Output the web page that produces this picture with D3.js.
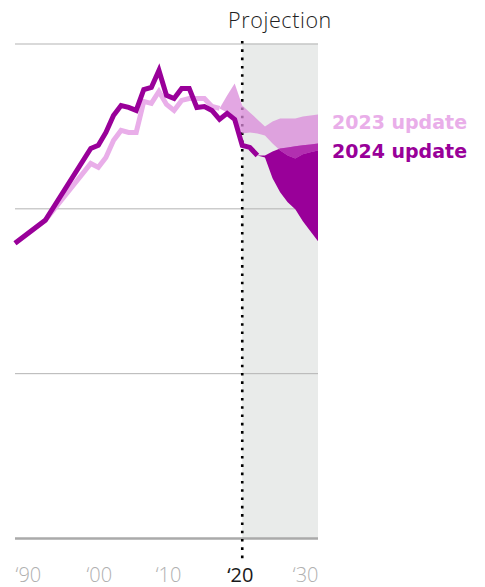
<!DOCTYPE html>
<html><head><meta charset="utf-8">
<script src="https://cdn.jsdelivr.net/npm/d3@7"></script>
<style>body{margin:0;background:#fff}</style>
</head><body>
<svg id="chart" width="485" height="587"></svg>
<script>
// ---- data ----
const years2024 = [1990,1994,2000,2001,2002,2003,2004,2005,2006,2007,2008,2009,2010,2011,2012,2013,2014,2015,2016,2017,2018,2019,2020,2021,2022];
const values2024 = [357.6,385.5,472.7,476.4,492.1,512.7,524.8,522.4,518.8,544.2,546.7,567.3,537.0,533.3,545.5,545.5,522.4,523.6,518.8,507.9,515.2,507.9,476.4,473.9,464.2];
const years2023 = [1990,1994,2000,2001,2002,2003,2004,2005,2006,2007,2008,2009,2010,2011,2012,2013,2014,2015,2016,2017];
const values2023 = [357.6,385.5,454.5,449.7,461.8,482.4,494.5,492.1,492.1,529.7,527.3,541.8,526.1,518.8,530.9,533.3,533.3,533.3,523.6,521.2];
const bandYears2023 = [2017,2018,2019,2020,2021,2022,2023,2024,2025,2026,2027,2028,2029,2030];
const band2023High = [521.2,537.0,551.5,524.8,516.4,507.9,499.4,505.5,509.1,509.1,509.1,511.5,512.7,513.9];
const band2023Low  = [521.2,516.4,506.7,490.9,492.1,490.9,488.5,478.8,470.3,464.2,460.6,465.5,467.9,470.3];
const bandYears2024 = [2022,2023,2024,2025,2026,2027,2028,2029,2030];
const band2024High = [464.2,464.2,469.1,472.7,473.9,475.2,476.4,477.6,478.8];
const band2024Low  = [464.2,461.8,436.4,419.4,407.3,398.8,384.2,372.1,360.0];
const xTickValues = [1990,2000,2010,2020,2030];
const xTickLabels = ["\u201890","\u201800","\u201810","\u201820","\u201830"];
const yTickValues = [0,200,400,600];
const projectionStart = 2020;
const seriesNames = ["2023 update","2024 update"];

// ---- layout ----
const svg = d3.select("#chart");
const x = d3.scaleLinear().domain([1990,2030]).range([15,318]);
const y = d3.scaleLinear().domain([0,600]).range([538,43.5]);
const C = {light:"#e9aee9", band23:"#da8ada", overlap:"#b22fb0", dark:"#990099", bg:"#e9ebea"};

// projection background
svg.append("rect")
  .attr("x", x(projectionStart)).attr("y", y(600))
  .attr("width", x(2030)-x(projectionStart)).attr("height", y(0)-y(600))
  .attr("fill", C.bg);

// gridlines
const yAxis = d3.axisLeft(y).tickValues(yTickValues).tickSize(-(x(2030)-x(1990))).tickFormat("");
const gy = svg.append("g").attr("transform", `translate(${x(1990)},0)`).call(yAxis);
gy.select(".domain").remove();
gy.selectAll(".tick line").attr("stroke", "#b3b3b3").attr("stroke-width", 1)
  .filter(d => d === 0).attr("stroke", "#aaaaaa").attr("stroke-width", 2.5);

// dotted projection line
svg.append("line")
  .attr("x1", x(projectionStart)).attr("x2", x(projectionStart))
  .attr("y1", 41).attr("y2", 560)
  .attr("stroke", "#000").attr("stroke-width", 2.6)
  .attr("stroke-dasharray", "2.6 5.7");

// bands
const b24 = bandYears2024.map((yr,i)=>({yr, lo:band2024Low[i], hi:band2024High[i]}));
const b23 = bandYears2023.map((yr,i)=>({yr, lo:band2023Low[i], hi:band2023High[i]}));
const area = d3.area().x(d=>x(d.yr)).y0(d=>y(d.lo)).y1(d=>y(d.hi));

svg.append("defs").append("clipPath").attr("id","clip24")
  .append("path").attr("d", area(b24));

svg.append("path").attr("d", area(b24)).attr("fill", C.dark);
svg.append("path").attr("d", area(b23)).attr("fill", C.band23).attr("fill-opacity", 0.75);
svg.append("path").attr("d", area(b23)).attr("fill", C.overlap).attr("clip-path","url(#clip24)");

// lines
const line = d3.line().x(d=>x(d[0])).y(d=>y(d[1]));
svg.append("path").attr("d", line(years2023.map((yr,i)=>[yr,values2023[i]])))
  .attr("fill","none").attr("stroke", C.light).attr("stroke-width", 5).attr("stroke-linejoin","miter");
svg.append("path").attr("d", line(years2024.map((yr,i)=>[yr,values2024[i]])))
  .attr("fill","none").attr("stroke", C.dark).attr("stroke-width", 5).attr("stroke-linejoin","miter");

// x axis
const xAxis = d3.axisBottom(x).tickValues(xTickValues).tickFormat((d,i)=>xTickLabels[i]).tickSize(0);
const gx = svg.append("g").attr("transform", `translate(0,${y(0)})`).call(xAxis);
gx.select(".domain").remove();
const dxs = [0, 8, 1.5, -2.5, 0];
gx.selectAll(".tick text")
  .attr("y", 43.5).attr("dy", 0)
  .attr("font-family", "'Open Sans', sans-serif").attr("font-size", 20)
  .attr("fill", d => d === 2020 ? "#1a1a1a" : "#b0b0b0")
  .attr("font-weight", d => d === 2020 ? 400 : 300)
  .attr("text-anchor", (d,i) => i === 0 ? "start" : (i === xTickValues.length-1 ? "end" : "middle"))
  .attr("dx", (d,i) => dxs[i]);

// title
svg.append("text").attr("x", 280).attr("y", 28).attr("text-anchor","middle")
  .attr("font-family","'Open Sans', sans-serif").attr("font-size",21.5).attr("font-weight",300)
  .attr("letter-spacing", 0.6).attr("fill","#222").text("Projection");

// series labels
svg.append("text").attr("x", 332).attr("y", 129)
  .attr("font-family","'DejaVu Sans', sans-serif").attr("font-size",19).attr("font-weight",700)
  .attr("fill", C.light).text(seriesNames[0]);
svg.append("text").attr("x", 332).attr("y", 158)
  .attr("font-family","'DejaVu Sans', sans-serif").attr("font-size",19).attr("font-weight",700)
  .attr("fill", C.dark).text(seriesNames[1]);
</script>
</body></html>
